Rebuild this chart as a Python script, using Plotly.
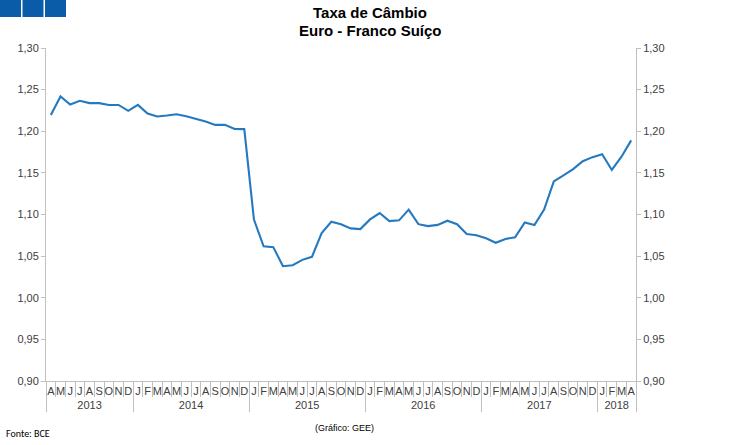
import plotly.graph_objects as go

years = ["2013"] * 9 + ["2014"] * 12 + ["2015"] * 12 + ["2016"] * 12 + ["2017"] * 12 + ["2018"] * 4
# month initials; invisible suffixes keep the (year, month) pairs unique and in calendar order
month_letters = ["J", "F", "M", "A", "M\u200b", "J\u200b", "J\u200b\u200b", "A\u200b", "S", "O", "N", "D"]
months = [m + "\u200c" for m in month_letters[3:]] + month_letters * 4 + month_letters[:4]

eur_chf = [
    1.2195, 1.2418, 1.2322, 1.2366, 1.2338, 1.2338, 1.2316, 1.2316, 1.2245,
    1.2317, 1.2212, 1.2177, 1.2189, 1.2204, 1.2181, 1.2150, 1.2118, 1.2076, 1.2078, 1.2027, 1.2026,
    1.0940, 1.0618, 1.0608, 1.0379, 1.0391, 1.0455, 1.0492, 1.0777, 1.0913, 1.0882, 1.0833, 1.0825,
    1.0941, 1.1018, 1.0920, 1.0930, 1.1059, 1.0884, 1.0860, 1.0875, 1.0925, 1.0884, 1.0765, 1.0750,
    1.0714, 1.0660, 1.0706, 1.0727, 1.0904, 1.0874, 1.1059, 1.1398, 1.1470, 1.1546, 1.1640, 1.1689,
    1.1723, 1.1535, 1.1694, 1.1890,
]

W, H = 750, 445
L, R, T, B = 46, 114, 48, 64
PW, PH = W - L - R, H - T - B
line_color = "#2579bf"
axis_color = "#bfbfbf"


def px_x(px):
    return (px - L) / PW


def px_y(py):
    return (H - B - py) / PH


fig = go.Figure()
fig.add_trace(go.Scatter(x=[years, months], y=eur_chf, mode="lines",
                         line=dict(color=line_color, width=2.1), hoverinfo="skip", showlegend=False))
fig.add_trace(go.Scatter(x=[years, months], y=eur_chf, mode="lines", yaxis="y2",
                         line=dict(color="rgba(0,0,0,0)", width=0), hoverinfo="skip", showlegend=False))

tickfont = dict(family="Liberation Sans, Arial, sans-serif", size=11, color="#404040")
yax = dict(range=[0.90, 1.30], dtick=0.05, tick0=0.90, tickformat=".2f", showgrid=False,
           zeroline=False, showline=True, linecolor=axis_color, linewidth=1, automargin=False,
           ticks="outside", ticklen=4, tickcolor=axis_color, tickfont=tickfont)

fig.update_layout(
    width=W, height=H,
    margin=dict(l=L, r=R, t=T, b=B, pad=0, autoexpand=False),
    paper_bgcolor="white", plot_bgcolor="white",
    separators=",.",
    xaxis=dict(type="multicategory", showgrid=False, showline=True, linecolor=axis_color,
               ticks="outside", tickson="boundaries", ticklen=15, tickcolor=axis_color,
               tickmode="linear", tick0=0, dtick=1, tickangle=0, automargin=False,
               showdividers=True, dividercolor=axis_color, dividerwidth=1,
               tickfont=tickfont, range=[-0.5, len(eur_chf) - 0.5]),
    yaxis=yax,
    yaxis2=dict(yax, overlaying="y", side="right", matches="y"),
)

# three blue squares top-left
for i in range(3):
    x0 = i * 22.5
    fig.add_shape(type="rect", xref="paper", yref="paper",
                  x0=px_x(x0), x1=px_x(x0 + 21), y0=px_y(17), y1=px_y(0),
                  fillcolor="#0a5ca8", line=dict(width=0), layer="above")

title_font = dict(family="Liberation Sans, Arial, sans-serif", size=15, color="black")
fig.add_annotation(text="<b>Taxa de Câmbio</b>", xref="paper", yref="paper",
                   x=px_x(370), y=px_y(12), xanchor="center", yanchor="middle",
                   showarrow=False, font=title_font)
fig.add_annotation(text="<b>Euro - Franco Suíço</b>", xref="paper", yref="paper",
                   x=px_x(370), y=px_y(30), xanchor="center", yanchor="middle",
                   showarrow=False, font=title_font)

fig.add_annotation(text="Fonte: BCE", xref="paper", yref="paper",
                   x=px_x(4), y=px_y(433), xanchor="left", yanchor="middle", showarrow=False,
                   font=dict(family="Carlito, Liberation Sans, sans-serif", size=10, color="black"))
fig.add_annotation(text="(Gráfico: GEE)", xref="paper", yref="paper",
                   x=px_x(344), y=px_y(428), xanchor="center", yanchor="middle", showarrow=False,
                   font=dict(family="Liberation Sans, Arial, sans-serif", size=9, color="black"))

fig.write_html("out.html", config={"displayModeBar": False},
               post_script="document.body.style.margin='0';")
